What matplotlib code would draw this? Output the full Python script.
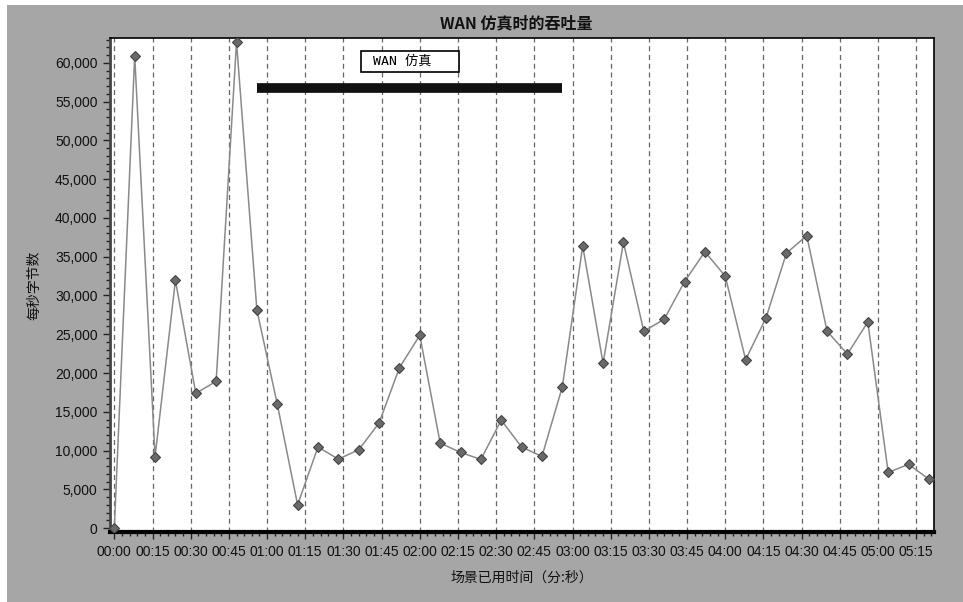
import matplotlib
matplotlib.use('Agg')
import matplotlib.pyplot as plt
from matplotlib.patches import Rectangle
from matplotlib.ticker import MultipleLocator, FuncFormatter

# elapsed time (s) and throughput (bytes/s)
seconds = [0, 8, 16, 24, 32, 40, 48, 56, 64, 72, 80, 88, 96, 104, 112, 120,
           128, 136, 144, 152, 160, 168, 176, 184, 192, 200, 208, 216, 224,
           232, 240, 248, 256, 264, 272, 280, 288, 296, 304, 312, 320]
throughput = [0, 60900, 9200, 31950, 17380, 18930, 62670, 28130, 16000, 3010,
              10450, 8900, 10100, 13550, 20690, 24860, 10970, 9760, 8860,
              13930, 10450, 9250, 18230, 36390, 21250, 36860, 25380, 26930,
              31780, 35650, 32480, 21720, 27100, 35440, 37720, 25380, 22450,
              26580, 7180, 8220, 6320]

tick_pos = [0, 15, 30, 45, 60, 75, 90, 105, 120, 135, 150, 165, 180, 195,
            210, 225, 240, 255, 270, 285, 300, 315]
tick_labels = ['00:00', '00:15', '00:30', '00:45', '01:00', '01:15', '01:30',
               '01:45', '02:00', '02:15', '02:30', '02:45', '03:00', '03:15',
               '03:30', '03:45', '04:00', '04:15', '04:30', '04:45', '05:00',
               '05:15']

# WAN emulation period
wan_start = 56
wan_end = 176
wan_level = 56800

num_font = ['Liberation Sans Narrow', 'Liberation Sans', 'DejaVu Sans']
cjk_font = ['Noto Sans CJK SC', 'DejaVu Sans']
plt.rcParams['font.family'] = num_font

bg = '#a6a6a6'
fig = plt.figure(figsize=(9.63, 6.02), dpi=100, facecolor='white')
fig.patches.append(Rectangle((7 / 963, 0), 1, 1 - 5 / 602, transform=fig.transFigure,
                             facecolor=bg, edgecolor='none', zorder=-10))

ax = fig.add_axes([110 / 963, 1 - 532 / 602, 824 / 963, 494 / 602])
ax.set_facecolor('white')

for p in tick_pos:
    ax.axvline(p, color='#666666', lw=0.9, ls=(0, (4, 3)), zorder=1)

ax.plot(seconds, throughput, color='#8a8a8a', lw=1.1, marker='D', ms=5.5,
        markerfacecolor='#6a6a6a', markeredgecolor='#444444', markeredgewidth=0.8,
        zorder=3)

ax.hlines(wan_level, wan_start, wan_end, color='#111111', lw=7, zorder=4)

ax.add_patch(Rectangle((0.3043, 0.9318), 0.1197, 0.0419, transform=ax.transAxes,
                       facecolor='white', edgecolor='black', lw=1.2, zorder=5))
ax.text(0.3195, 0.9534, 'WAN 仿真', transform=ax.transAxes, va='center', ha='left',
        fontsize=9.5, family=['DejaVu Sans Mono', 'Noto Sans CJK SC'], zorder=6)

ax.set_xlim(-1.7, 322)
ax.set_ylim(-500, 63200)
ax.set_xticks(tick_pos)
ax.set_xticklabels(tick_labels)
ax.xaxis.set_minor_locator(MultipleLocator(3))
ax.yaxis.set_major_locator(MultipleLocator(5000))
ax.yaxis.set_minor_locator(MultipleLocator(1000))
ax.yaxis.set_major_formatter(FuncFormatter(lambda v, _: f'{int(v):,}'))

ax.tick_params(axis='both', which='major', length=5, width=1, color='#222222',
               labelsize=10, labelcolor='#111111', pad=4)
ax.tick_params(axis='both', which='minor', length=3, width=1, color='#222222')

for side in ['top', 'right']:
    ax.spines[side].set_linewidth(1.2)
    ax.spines[side].set_color('black')
ax.spines['left'].set_linewidth(2)
ax.spines['left'].set_color('#444444')
ax.spines['bottom'].set_linewidth(3)
ax.spines['bottom'].set_color('black')

ax.set_ylabel('每秒字节数', family=cjk_font, fontsize=10, color='#111111', labelpad=10)
ax.set_xlabel('场景已用时间（分:秒）', family=cjk_font, fontsize=10, color='#111111',
              labelpad=9)
fig.text(0.5365, 1 - 23 / 602, 'WAN 仿真时的吞吐量', ha='center', va='center',
         family=cjk_font, fontsize=11.5, fontweight='bold', color='#111111')

fig.savefig('out.png', dpi=100, facecolor=fig.get_facecolor())
